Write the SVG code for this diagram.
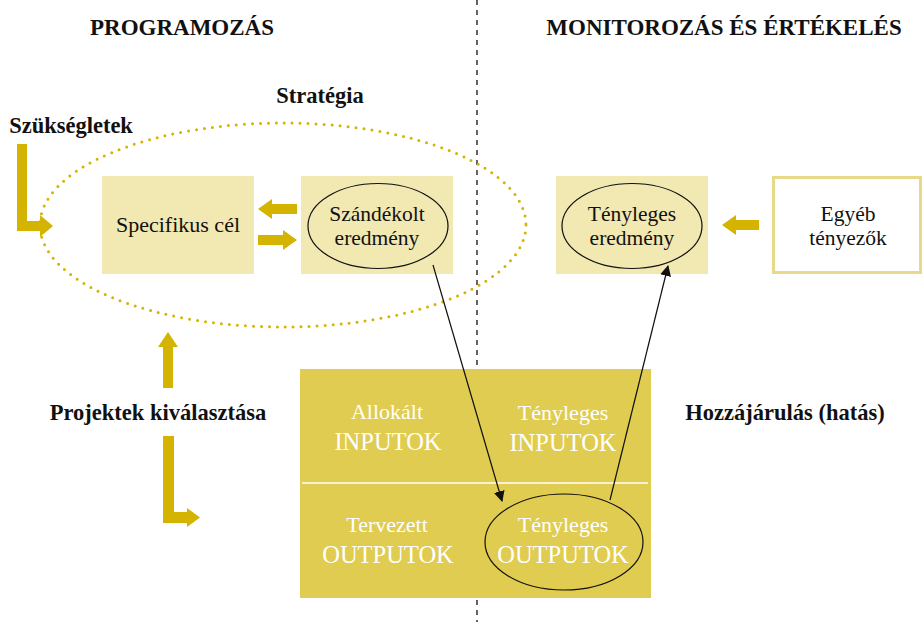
<svg xmlns="http://www.w3.org/2000/svg" width="923" height="622" viewBox="0 0 923 622">
<defs>
<style>
.t{font-family:"Liberation Serif","DejaVu Serif",serif;fill:#111;text-anchor:middle}
.b{font-weight:bold;font-size:22.5px}
.r{font-size:21.5px}
.w{fill:#fff;font-size:22px}
.caps{font-size:24.5px}
.light{fill:#f1e8b2}
.gold{fill:#d4b400}
.ln{stroke:#111;stroke-width:1.2;fill:none}
</style>
<marker id="ah" viewBox="0 0 10 10" refX="9" refY="5" markerWidth="11" markerHeight="11" markerUnits="userSpaceOnUse" orient="auto">
<path d="M0,0 L10,5 L0,10 z" fill="#111"/>
</marker>
</defs>
<rect width="923" height="622" fill="#fff"/>

<line x1="477" y1="0" x2="477" y2="622" stroke="#111" stroke-width="1.3" stroke-dasharray="5,5"/>

<g id="headings">
<text class="t b" x="182" y="35" style="font-size:23px">PROGRAMOZÁS</text>
<text class="t b" x="724" y="35" style="font-size:23px">MONITOROZÁS ÉS ÉRTÉKELÉS</text>
<text class="t b" x="320" y="103">Stratégia</text>
<text class="t b" x="71" y="133">Szükségletek</text>
</g>

<ellipse cx="283" cy="225" rx="243" ry="102" fill="none" stroke="#d4b400" stroke-width="3" stroke-linecap="round" stroke-dasharray="0,8"/>

<g id="specifikus">
<rect class="light" x="102" y="176" width="152" height="98"/>
<text class="t r" x="178" y="232" style="font-size:22px">Specifikus cél</text>
</g>

<g id="szandekolt">
<rect class="light" x="301" y="176" width="152" height="98"/>
<ellipse cx="378" cy="226" rx="70" ry="42.5" class="ln"/>
<text class="t r" x="377" y="221">Szándékolt</text>
<text class="t r" x="377" y="245">eredmény</text>
</g>

<g id="tenyleges-eredmeny">
<rect class="light" x="556" y="176" width="152" height="98"/>
<ellipse cx="632" cy="226" rx="70" ry="42.5" class="ln"/>
<text class="t r" x="632" y="221">Tényleges</text>
<text class="t r" x="632" y="245">eredmény</text>
</g>

<g id="egyeb">
<rect x="773.5" y="177.5" width="147" height="95" fill="#fff" stroke="#e8d98a" stroke-width="3"/>
<text class="t r" x="848" y="221">Egyéb</text>
<text class="t r" x="848" y="245">tényezők</text>
</g>

<g id="matrix">
<rect x="300" y="369" width="351" height="229" fill="#e0cc50"/>
<line x1="302" y1="483" x2="648" y2="483" stroke="#fff" stroke-width="1.5"/>
<text class="t w" x="387" y="419">Allokált</text>
<text class="t w caps" x="388" y="450">INPUTOK</text>
<text class="t w" x="563" y="420">Tényleges</text>
<text class="t w caps" x="563" y="451">INPUTOK</text>
<text class="t w" x="387" y="532">Tervezett</text>
<text class="t w caps" x="388" y="563">OUTPUTOK</text>
<ellipse cx="564" cy="542" rx="79" ry="48" class="ln"/>
<text class="t w" x="563" y="532">Tényleges</text>
<text class="t w caps" x="563" y="563">OUTPUTOK</text>
</g>

<g id="labels">
<text class="t b" x="158" y="420">Projektek kiválasztása</text>
<text class="t b" x="785" y="420">Hozzájárulás (hatás)</text>
</g>

<g id="connectors">
<path class="gold" d="M17,144 H27 V221 H40 V215 L53,226 L40,237 V231 H17 Z"/>
<path class="gold" d="M297,204 H272 V199 L258,209 L272,219 V214 H297 Z"/>
<path class="gold" d="M258,235 H283 V230 L297,240 L283,250 V245 H258 Z"/>
<path class="gold" d="M759,220 H736 V215 L722,225 L736,235 V230 H759 Z"/>
<path class="gold" d="M163,388 V347 H158 L168,332 L178,347 H173 V388 Z"/>
<path class="gold" d="M163,436 H174 V512 H187 V508 L200,517.5 L187,527 V523 H163 Z"/>
<line class="ln" x1="433" y1="265" x2="502" y2="501" marker-end="url(#ah)"/>
<line class="ln" x1="610" y1="500" x2="668" y2="266" marker-end="url(#ah)"/>
</g>
</svg>
